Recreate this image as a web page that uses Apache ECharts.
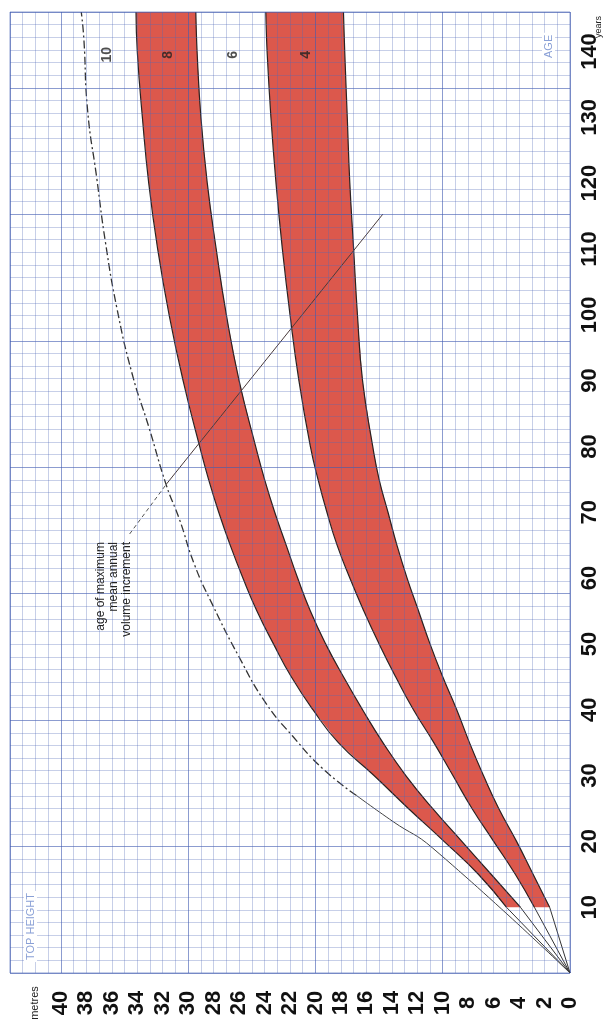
<!DOCTYPE html>
<html>
<head>
<meta charset="UTF-8">
<title>Top height by age</title>
<script src="https://cdn.jsdelivr.net/npm/echarts/dist/echarts.min.js"></script>
<style>
  html, body { margin: 0; padding: 0; background: #fff; }
  #chart { width: 605px; height: 1026px; }
</style>
</head>
<body>
<div id="chart"></div>
<script>
// ages (years) where the band edges were read
var ages = [10, 15, 20, 25, 30, 35, 40, 45, 50, 55, 60, 65, 70, 75, 80, 90, 100, 110, 120, 130, 140, 146];
// top height (m) of the band edges
var yc8Upper = [5.0, 7.2, 9.9, 12.7, 15.4, 18.2, 20.2, 21.9, 23.3, 24.6, 25.7, 26.7, 27.6, 28.4, 29.1, 30.4, 31.5, 32.4, 33.1, 33.6, 34.0, 34.1];
var yc8Lower = [3.9, 6.2, 8.5, 10.8, 12.9, 14.7, 16.3, 17.8, 19.2, 20.4, 21.4, 22.3, 23.2, 24.0, 24.7, 26.0, 27.0, 27.8, 28.5, 29.0, 29.3, 29.4];
var yc4Upper = [2.8, 4.3, 6.0, 7.7, 9.2, 10.7, 12.3, 13.7, 15.0, 16.2, 17.3, 18.3, 19.1, 19.8, 20.4, 21.3, 22.0, 22.6, 23.1, 23.5, 23.8, 23.9];
var yc4Lower = [1.6, 2.9, 4.2, 5.6, 6.8, 7.9, 8.9, 10.0, 11.0, 11.9, 12.8, 13.6, 14.3, 15.0, 15.5, 16.3, 16.7, 17.0, 17.3, 17.5, 17.7, 17.8];

// age of maximum mean annual volume increment
var maiAges = [0, 19, 23, 27, 31, 36, 41, 48, 56, 62, 69, 74, 83, 91, 101, 111, 121, 131, 142, 146];
var maiHeights = [0, 10.8, 13.9, 16.8, 19.4, 21.8, 23.9, 26.0, 28.1, 29.5, 30.7, 31.7, 33.1, 34.4, 35.6, 36.5, 37.2, 37.9, 38.2, 38.4];
var maiSolidCount = 4;

// straight leader line from the note
var leaderHeights = [34.6, 31.7, 14.7];
var leaderAges = [66.7, 74.3, 115.3];

// yield class labels at the top
var ycNames = ['10', '8', '6', '4'];
var ycLabelHeights = [36.4, 31.6, 26.5, 20.7];
var ycLabelAge = 139.5;

var bands = [[yc8Upper, yc8Lower], [yc4Upper, yc4Lower]];

function edge(hs) {
    return ages.map(function (a, i) { return [hs[i], a]; });
}
function pairs(hs, as) {
    return hs.map(function (h, i) { return [h, as[i]]; });
}

function renderBand(params, api) {
    var b = bands[params.dataIndex];
    var pts = [];
    for (var i = 0; i < ages.length; i++) pts.push(api.coord([b[0][i], ages[i]]));
    for (var j = ages.length - 1; j >= 0; j--) pts.push(api.coord([b[1][j], ages[j]]));
    return { type: 'polygon', shape: { points: pts }, style: { fill: '#dc584c' } };
}

var edgeStyle = { color: '#2a2222', width: 1.2 };
var fanStyle = { color: '#333', width: 1 };
var labelFont = { fontFamily: 'Liberation Sans', fontWeight: 'bold', fontSize: 22, color: '#111' };
var minorLine = { color: 'rgba(80,105,185,0.32)', width: 1 };
var majorLine = { color: 'rgba(60,85,175,0.42)', width: 1 };

function hiddenAxis(extra) {
    var ax = {
        type: 'value', min: 0, z: 5,
        axisLine: { show: false }, axisTick: { show: false }, axisLabel: { show: false }
    };
    for (var k in extra) ax[k] = extra[k];
    return ax;
}

var series = [
    {
        type: 'custom', renderItem: renderBand, silent: true, z: 2,
        data: [[yc8Upper[0], ages[0]], [yc4Upper[0], ages[0]]]
    }
];
[yc8Upper, yc8Lower, yc4Upper, yc4Lower].forEach(function (hs) {
    series.push({ type: 'line', data: edge(hs), smooth: true, symbol: 'none', lineStyle: edgeStyle, z: 3 });
    series.push({ type: 'line', data: [[0, 0], [hs[0], ages[0]]], symbol: 'none', lineStyle: fanStyle, z: 3 });
});
series.push({
    type: 'line', symbol: 'none', smooth: true, z: 3,
    data: pairs(maiHeights.slice(0, maiSolidCount), maiAges.slice(0, maiSolidCount)),
    lineStyle: { color: '#444', width: 1 }
});
series.push({
    type: 'line', symbol: 'none', smooth: true, z: 3,
    data: pairs(maiHeights.slice(maiSolidCount - 1), maiAges.slice(maiSolidCount - 1)),
    lineStyle: { color: '#333', width: 1.3, type: [8, 3, 2, 3] }
});
series.push({
    type: 'line', symbol: 'none', z: 3,
    data: pairs(leaderHeights.slice(0, 2), leaderAges.slice(0, 2)),
    lineStyle: { color: '#555', width: 1, type: [4, 3] }
});
series.push({
    type: 'line', symbol: 'none', z: 3,
    data: pairs(leaderHeights.slice(1), leaderAges.slice(1)),
    lineStyle: { color: '#4a3a3a', width: 1 }
});
series.push({
    type: 'scatter', symbolSize: 0, itemStyle: { color: 'rgba(0,0,0,0)' }, z: 6,
    data: ycLabelHeights.map(function (h) { return [h, ycLabelAge]; }),
    label: {
        show: true, position: 'inside', rotate: 90,
        fontFamily: 'Liberation Sans', fontWeight: 'bold', fontSize: 14, color: '#222',
        formatter: function (p) { return ycNames[p.dataIndex]; }
    }
});

var chart = echarts.init(document.getElementById('chart'));
chart.setOption({
    animation: false,
    backgroundColor: '#fff',
    grid: { left: 10, right: 35, top: 12, bottom: 53, show: true, borderColor: '#8ea0d2', borderWidth: 1 },
    xAxis: [
        {
            type: 'value', min: 0, max: 44, interval: 2, inverse: true,
            axisLine: { show: false, onZero: false }, axisTick: { show: false }, splitLine: { show: false },
            axisLabel: {
                rotate: 90, align: 'center', verticalAlign: 'middle', margin: 30,
                fontFamily: labelFont.fontFamily, fontWeight: labelFont.fontWeight,
                fontSize: labelFont.fontSize, color: labelFont.color,
                formatter: function (v) {
                    if (v === 42) return '{m|metres}';
                    if (v > 40) return '';
                    return String(v);
                },
                rich: { m: { fontFamily: 'Liberation Sans', fontSize: 11, fontWeight: 'normal', color: '#222' } }
            }
        },
        hiddenAxis({ max: 44, interval: 1, inverse: true, splitLine: { show: true, lineStyle: minorLine } }),
        hiddenAxis({ max: 44, interval: 10, inverse: true, splitLine: { show: true, lineStyle: majorLine } })
    ],
    yAxis: [
        {
            type: 'value', position: 'right', min: 0, max: 146, interval: 10,
            axisLine: { show: false, onZero: false }, axisTick: { show: false }, splitLine: { show: false },
            axisLabel: {
                rotate: 90, align: 'center', verticalAlign: 'middle', margin: 20,
                fontFamily: labelFont.fontFamily, fontWeight: labelFont.fontWeight,
                fontSize: labelFont.fontSize, color: labelFont.color,
                formatter: function (v) { return (v === 0 || v > 140) ? '' : String(v); }
            }
        },
        hiddenAxis({ max: 76, interval: 1, splitLine: { show: true, lineStyle: minorLine } }),
        hiddenAxis({ max: 76, interval: 10, splitLine: { show: true, lineStyle: majorLine } })
    ],
    graphic: [
        {
            type: 'text', x: 94, y: 542, rotation: Math.PI / 2, z: 10,
            style: {
                text: 'age of maximum\nmean annual\nvolume increment',
                align: 'right', verticalAlign: 'top', lineHeight: 13,
                fontFamily: 'Liberation Sans', fontSize: 12, fill: '#222'
            }
        },
        {
            type: 'text', x: 24, y: 962, rotation: Math.PI / 2, z: 10,
            style: {
                text: 'TOP HEIGHT', align: 'left', verticalAlign: 'top',
                fontFamily: 'Liberation Sans', fontSize: 11, fill: '#8aa0d6',
                backgroundColor: '#fff', padding: [1, 2]
            }
        },
        {
            type: 'text', x: 542, y: 60, rotation: Math.PI / 2, z: 10,
            style: {
                text: 'AGE', align: 'left', verticalAlign: 'top',
                fontFamily: 'Liberation Sans', fontSize: 11, fill: '#8aa0d6',
                backgroundColor: '#fff', padding: [1, 2]
            }
        },
        {
            type: 'text', x: 594, y: 38, rotation: Math.PI / 2, z: 10,
            style: {
                text: 'years', align: 'left', verticalAlign: 'top',
                fontFamily: 'Liberation Sans', fontSize: 9, fill: '#222'
            }
        }
    ],
    series: series
});
</script>
</body>
</html>
